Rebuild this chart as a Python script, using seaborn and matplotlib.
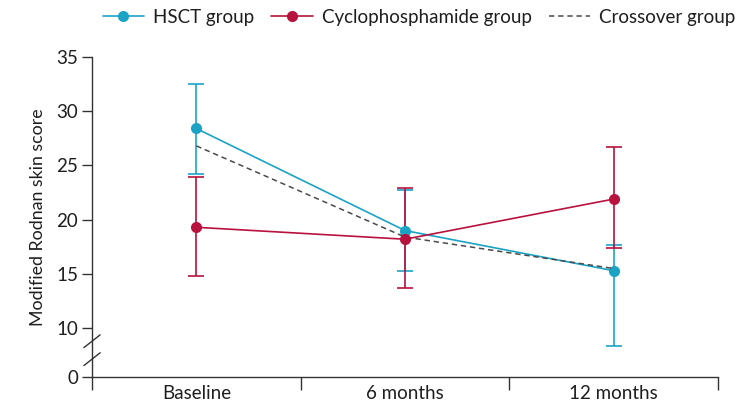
import numpy as np
import pandas as pd
import matplotlib
matplotlib.use("Agg")
import matplotlib.pyplot as plt
import seaborn as sns

# Time points and group results
timepoints = ["Baseline", "6 months", "12 months"]

hsct_mean = [28.4, 19.0, 15.3]
hsct_upper = [32.5, 22.7, 17.7]
hsct_lower = [24.2, 15.3, 8.4]

cyclo_mean = [19.3, 18.2, 21.9]
cyclo_upper = [23.9, 22.9, 26.7]
cyclo_lower = [14.8, 13.7, 17.4]

crossover_mean = [26.8, 18.4, 15.5]

y_ticks = [0, 10, 15, 20, 25, 30, 35]

sns.set_theme(style="ticks")
plt.rcParams["font.family"] = ["Lato", "DejaVu Sans"]
FS = 13.5

C_HSCT = "#1ba3c6"
C_CYC = "#b8123e"
C_CROSS = "#4a4a4a"
AX_COL = "#333333"
TXT = "#1e1e1e"

# long-form table for seaborn
pos = np.arange(len(timepoints))
df = pd.concat([
    pd.DataFrame({"t": pos, "score": hsct_mean, "group": "HSCT group"}),
    pd.DataFrame({"t": pos, "score": cyclo_mean, "group": "Cyclophosphamide group"}),
    pd.DataFrame({"t": pos, "score": crossover_mean, "group": "Crossover group"}),
])

fig = plt.figure(figsize=(7.38, 4.09), dpi=100)
ax = fig.add_axes([0.1247, 0.078, 0.9729 - 0.1247, 0.783])

# compressed segment below 7 so the 0 baseline sits just under 10
BRK, K = 7.0, 1.5 / 7.0


def fwd(y):
    y = np.asarray(y, dtype=float)
    return np.where(y >= BRK, y, BRK - (BRK - y) * K)


def inv(t):
    t = np.asarray(t, dtype=float)
    return np.where(t >= BRK, t, BRK - (BRK - t) / K)


ax.set_yscale("function", functions=(fwd, inv))

# error bars
ax.errorbar(pos, hsct_mean,
            yerr=[np.subtract(hsct_mean, hsct_lower), np.subtract(hsct_upper, hsct_mean)],
            fmt="none", ecolor=C_HSCT, elinewidth=1.2, capsize=6, capthick=1.2, zorder=2)
ax.errorbar(pos, cyclo_mean,
            yerr=[np.subtract(cyclo_mean, cyclo_lower), np.subtract(cyclo_upper, cyclo_mean)],
            fmt="none", ecolor=C_CYC, elinewidth=1.2, capsize=6, capthick=1.2, zorder=3)

sns.lineplot(data=df[df.group == "HSCT group"], x="t", y="score", color=C_HSCT,
             marker="o", markersize=8, markeredgewidth=0, linewidth=1.2, ax=ax,
             zorder=4, label="HSCT group")
sns.lineplot(data=df[df.group == "Crossover group"], x="t", y="score", color=C_CROSS,
             linestyle=(0, (3.5, 2.5)), linewidth=1.1, ax=ax, zorder=4.5,
             label="Crossover group")
sns.lineplot(data=df[df.group == "Cyclophosphamide group"], x="t", y="score", color=C_CYC,
             marker="o", markersize=8, markeredgewidth=0, linewidth=1.2, ax=ax,
             zorder=5, label="Cyclophosphamide group")

ax.set_xlim(-0.5, 2.5)
ax.set_ylim(0, 35)

# category boundaries as major ticks, labels centred on minor ticks
ax.set_xticks([-0.5, 0.5, 1.5, 2.5])
ax.set_xticklabels([])
ax.set_xticks(pos, minor=True)
ax.set_xticklabels(timepoints, minor=True)
ax.tick_params(axis="x", which="major", length=9, width=1, color=AX_COL, direction="out")
ax.tick_params(axis="x", which="minor", length=0, pad=6, labelsize=FS, labelcolor=TXT)

ax.set_yticks(y_ticks)
ax.set_yticklabels([str(v) for v in y_ticks])
ax.yaxis.set_minor_locator(matplotlib.ticker.NullLocator())
ax.tick_params(axis="y", length=7, width=1, color=AX_COL, labelsize=FS,
               labelcolor=TXT, pad=3)

ax.set_xlabel("")
ax.set_ylabel("Modified Rodnan skin score", fontsize=12.8, color=TXT, labelpad=7)

sns.despine(ax=ax)
for s in ("left", "bottom"):
    ax.spines[s].set_color(AX_COL)
    ax.spines[s].set_linewidth(1.0)

# axis break marks on the y spine
for yc in (0.112, 0.056):
    ax.plot([-0.013, 0.013], [yc - 0.02, yc + 0.02], transform=ax.transAxes,
            color=AX_COL, linewidth=1.0, clip_on=False, zorder=10)

# legend along the top
ax.get_legend().remove()
h, l = ax.get_legend_handles_labels()
order = [l.index("HSCT group"), l.index("Cyclophosphamide group"), l.index("Crossover group")]
fig.legend([h[i] for i in order], [l[i] for i in order], loc="upper center",
           bbox_to_anchor=(0.568, 1.02), ncol=3, frameon=False, fontsize=FS,
           handlelength=2.2, handletextpad=0.5, columnspacing=0.9, labelcolor=TXT)

fig.savefig("out.png", dpi=100)
